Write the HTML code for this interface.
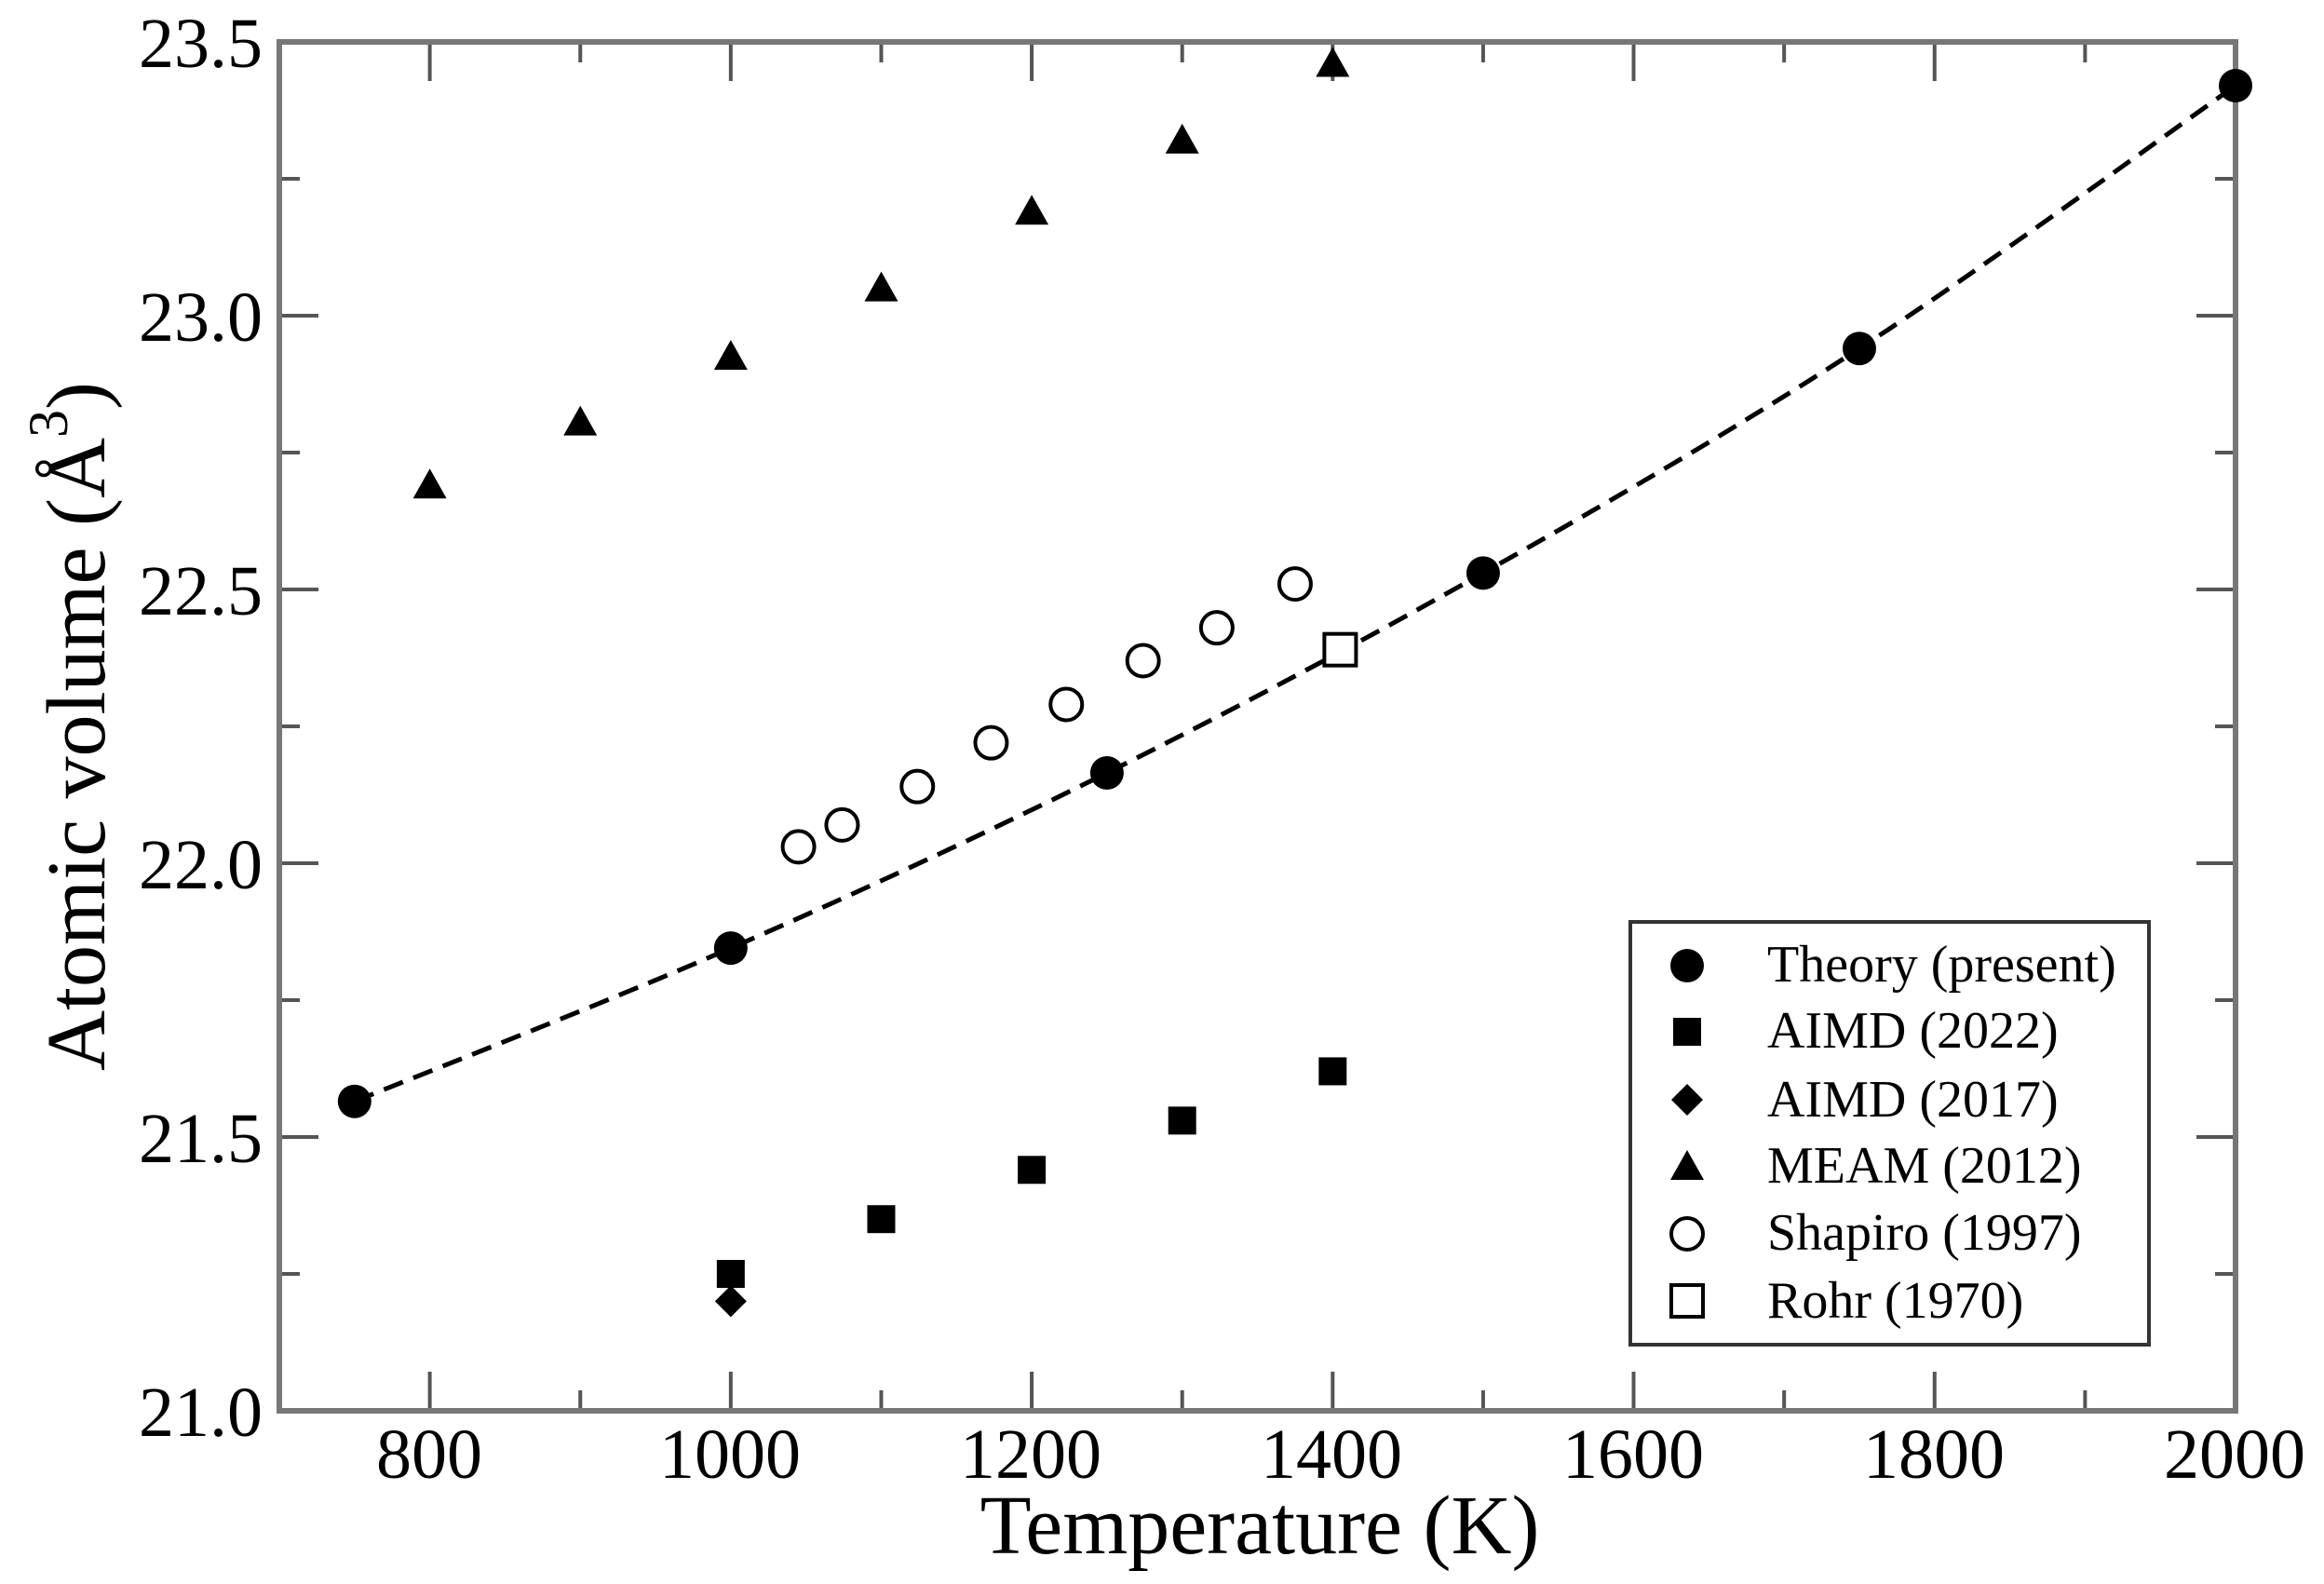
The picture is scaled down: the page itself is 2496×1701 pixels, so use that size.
<!DOCTYPE html>
<html><head><meta charset="utf-8"><style>
html,body{margin:0;padding:0;background:#fff}
svg{display:block}
text{font-family:"Liberation Serif",serif;fill:#000}
</style></head><body>
<svg id="s" width="2496" height="1701" viewBox="0 0 2496 1701" xmlns="http://www.w3.org/2000/svg">
<rect width="2496" height="1701" fill="#fff"/>
<g id="ticks" stroke="#555" stroke-width="4"></g>
<rect x="300" y="45" width="2101" height="1470" fill="none" stroke="#777" stroke-width="6"/>
<g font-size="76" text-anchor="end">
<text x="282" y="72">23.5</text>
<text x="282" y="366">23.0</text>
<text x="282" y="660">22.5</text>
<text x="282" y="954">22.0</text>
<text x="282" y="1248">21.5</text>
<text x="282" y="1542">21.0</text>
</g>
<g font-size="76" text-anchor="middle">
<text x="461" y="1587">800</text>
<text x="784" y="1587">1000</text>
<text x="1107" y="1587">1200</text>
<text x="1430" y="1587">1400</text>
<text x="1754" y="1587">1600</text>
<text x="2077" y="1587">1800</text>
<text x="2400" y="1587">2000</text>
</g>
<text x="1353" y="1668" font-size="90" text-anchor="middle">Temperature (K)</text>
<text transform="translate(112,780) rotate(-90)" font-size="90" text-anchor="middle">Atomic volume (Å<tspan dy="-40" font-size="60">3</tspan><tspan dy="40">)</tspan></text>
<path id="curve" fill="none" stroke="#000" stroke-width="5" stroke-dasharray="22 12"/>
<g id="pts"></g>
<rect x="1751" y="990" width="557" height="454" fill="#fff" stroke="#333" stroke-width="4"/>
<g font-size="56">
<text x="1898" y="1054">Theory (present)</text>
<text x="1898" y="1125">AIMD (2022)</text>
<text x="1898" y="1199">AIMD (2017)</text>
<text x="1898" y="1270">MEAM (2012)</text>
<text x="1898" y="1342">Shapiro (1997)</text>
<text x="1898" y="1415">Rohr (1970)</text>
</g>
<g id="leg"></g>
</svg>
<script>
var NS="http://www.w3.org/2000/svg";
function X(t){return 300+(t-700)*2101/1300;}
function Y(v){return 1515-(v-21)*588;}
function el(p,tag,a){var e=document.createElementNS(NS,tag);for(var k in a)e.setAttribute(k,a[k]);p.appendChild(e);return e;}
var tk=document.getElementById("ticks");
for(var t=700;t<=2000;t+=100){var x=X(t),L=(t%200==0)?42:22;
el(tk,"line",{x1:x,y1:1515,x2:x,y2:1515-L});el(tk,"line",{x1:x,y1:45,x2:x,y2:45+L});}
for(var i=0;i<=10;i++){var v=21+i*0.25,y=Y(v),L=(i%2==0)?42:22;
el(tk,"line",{x1:300,y1:y,x2:300+L,y2:y});el(tk,"line",{x1:2401,y1:y,x2:2401-L,y2:y});}
var th=[[750,21.565],[1000,21.845],[1250,22.165],[1500,22.53],[1750,22.94],[2000,23.42]];
var P=th.map(function(p){return [X(p[0]),Y(p[1])];});
var d="M"+P[0][0]+","+P[0][1];
for(var i=0;i<P.length-1;i++){var p0=P[Math.max(0,i-1)],p1=P[i],p2=P[i+1],p3=P[Math.min(P.length-1,i+2)];
var c1=[p1[0]+(p2[0]-p0[0])/6,p1[1]+(p2[1]-p0[1])/6],c2=[p2[0]-(p3[0]-p1[0])/6,p2[1]-(p3[1]-p1[1])/6];
d+=" C"+c1+" "+c2+" "+p2;}
document.getElementById("curve").setAttribute("d",d);
var g=document.getElementById("pts");
function circ(p,x,y,f){el(p,"circle",{cx:x,cy:y,r:f?18:17,fill:f?"#000":"#fff",stroke:"#000","stroke-width":f?0:4});}
function sq(p,x,y,f){var s=f?15:17;el(p,"rect",{x:x-s,y:y-s,width:2*s,height:2*s,fill:f?"#000":"#fff",stroke:"#000","stroke-width":f?0:4});}
function dia(p,x,y){el(p,"polygon",{points:[x,y-17,x+17,y,x,y+17,x-17,y].join(","),fill:"#000"});}
function tri(p,x,y){el(p,"polygon",{points:[x,y-18,x+18,y+14,x-18,y+14].join(","),fill:"#000"});}
[[1000,21.25],[1100,21.35],[1200,21.44],[1300,21.53],[1400,21.62]].forEach(function(p){sq(g,X(p[0]),Y(p[1]),true);});
dia(g,X(1000),Y(21.2));
[[800,22.69],[900,22.805],[1000,22.925],[1100,23.05],[1200,23.19],[1300,23.32],[1400,23.46]].forEach(function(p){tri(g,X(p[0]),Y(p[1]));});
[[1045,22.03],[1074,22.07],[1124,22.14],[1173,22.22],[1223,22.29],[1274,22.37],[1323,22.43],[1375,22.51]].forEach(function(p){circ(g,X(p[0]),Y(p[1]),false);});
sq(g,X(1405),Y(22.39),false);
th.forEach(function(p){circ(g,X(p[0]),Y(p[1]),true);});
var lg=document.getElementById("leg");
circ(lg,1812,1037,true);sq(lg,1812,1108,true);dia(lg,1812,1181);tri(lg,1812,1253);circ(lg,1812,1325,false);sq(lg,1812,1397,false);
</script>
</body></html>
